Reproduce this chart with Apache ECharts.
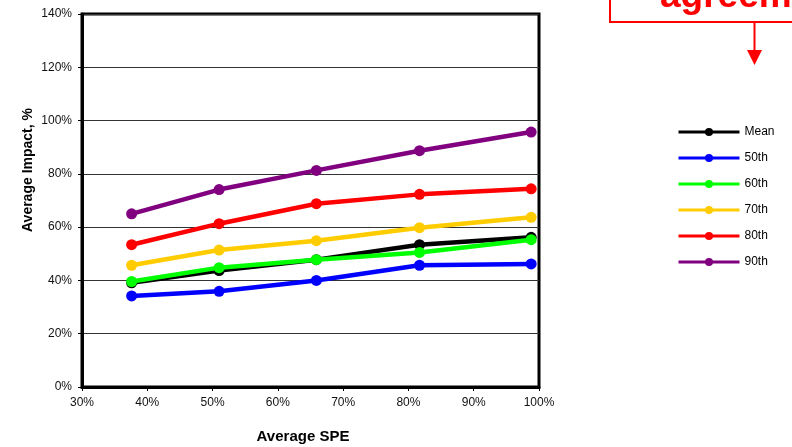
<!DOCTYPE html>
<html>
<head>
<meta charset="utf-8">
<script src="https://cdn.jsdelivr.net/npm/echarts@6/dist/echarts.min.js"></script>
<style>
html,body{margin:0;padding:0;background:#fff;}
#chart{width:792px;height:447px;}
</style>
</head>
<body>
<div id="chart"></div>
<script>
// Average SPE (x, %) for each point
var spe = [37.6, 51.0, 65.9, 81.7, 98.8];
var seriesNames = ['Mean', '50th', '60th', '70th', '80th', '90th'];
var meanVals = [39.1, 43.7, 47.8, 53.4, 56.2];
var p50Vals = [34.2, 35.9, 40.0, 45.7, 46.2];
var p60Vals = [39.6, 44.8, 47.8, 50.5, 55.3];
var p70Vals = [45.7, 51.4, 54.9, 59.8, 63.7];
var p80Vals = [53.4, 61.3, 68.8, 72.3, 74.4];
var p90Vals = [65.0, 74.1, 81.3, 88.7, 95.7];
var colors = ['#000000', '#0000FF', '#00FF00', '#FFCC00', '#FF0000', '#800080'];
var xTitle = 'Average SPE';
var yTitle = 'Average Impact, %';
var noteText = 'agreement';

var allVals = [meanVals, p50Vals, p60Vals, p70Vals, p80Vals, p90Vals];

var chart = echarts.init(document.getElementById('chart'), null, {renderer: 'canvas'});
var font = 'Arial, "Liberation Sans", sans-serif';

var series = seriesNames.map(function (name, i) {
  return {
    name: name,
    type: 'line',
    data: spe.map(function (x, j) { return [x, allVals[i][j]]; }),
    symbol: 'circle',
    symbolSize: 11,
    lineStyle: {width: 4.5, color: colors[i]},
    itemStyle: {color: colors[i]},
    animation: false,
    z: 3 + i
  };
});

chart.setOption({
  backgroundColor: '#fff',
  animation: false,
  grid: {
    left: 82, right: 253, top: 14, bottom: 60,
    show: true, borderColor: '#000', borderWidth: 3, backgroundColor: 'transparent'
  },
  xAxis: {
    type: 'value', min: 30, max: 100, interval: 10,
    axisLine: {show: true, onZero: false, lineStyle: {color: '#000', width: 3}},
    axisTick: {show: true, inside: false, length: 4, lineStyle: {color: '#000', width: 1}},
    axisLabel: {formatter: '{value}%', fontSize: 12, color: '#111', fontFamily: font, margin: 10},
    splitLine: {show: false}
  },
  yAxis: {
    type: 'value', min: 0, max: 140, interval: 20,
    axisLine: {show: true, onZero: false, lineStyle: {color: '#000', width: 3}},
    axisTick: {show: true, inside: false, length: 4, lineStyle: {color: '#000', width: 1}},
    axisLabel: {formatter: '{value}%', fontSize: 12, color: '#111', fontFamily: font, margin: 10},
    splitLine: {show: true, lineStyle: {color: '#333', width: 1}}
  },
  legend: {
    data: seriesNames,
    orient: 'vertical',
    left: 677, top: 126, padding: 0,
    itemWidth: 61, itemHeight: 10, itemGap: 14,
    lineStyle: {width: 3},
    textStyle: {fontSize: 12, color: '#000', fontFamily: font},
    selectedMode: false
  },
  graphic: [
    {
      type: 'text', x: 28, y: 170, rotation: Math.PI / 2,
      style: {text: yTitle, font: 'bold 14px ' + font, fill: '#000', textAlign: 'center', textVerticalAlign: 'middle'}
    },
    {
      type: 'text', x: 303, y: 437,
      style: {text: xTitle, font: 'bold 15px ' + font, fill: '#000', textAlign: 'center', textVerticalAlign: 'middle'}
    },
    {
      type: 'rect', shape: {x: 610, y: -20, width: 200, height: 42},
      style: {fill: 'none', stroke: '#FF0000', lineWidth: 2}
    },
    {
      type: 'text', x: 660, y: -3,
      style: {text: noteText, font: 'bold 37px ' + font, fill: '#FF0000', textAlign: 'left', textVerticalAlign: 'middle'}
    },
    {
      type: 'line', shape: {x1: 754.5, y1: 22, x2: 754.5, y2: 52},
      style: {stroke: '#FF0000', lineWidth: 2}
    },
    {
      type: 'polygon', shape: {points: [[747, 50], [762, 50], [754.5, 65]]},
      style: {fill: '#FF0000'}
    }
  ],
  series: series
});
</script>
</body>
</html>
